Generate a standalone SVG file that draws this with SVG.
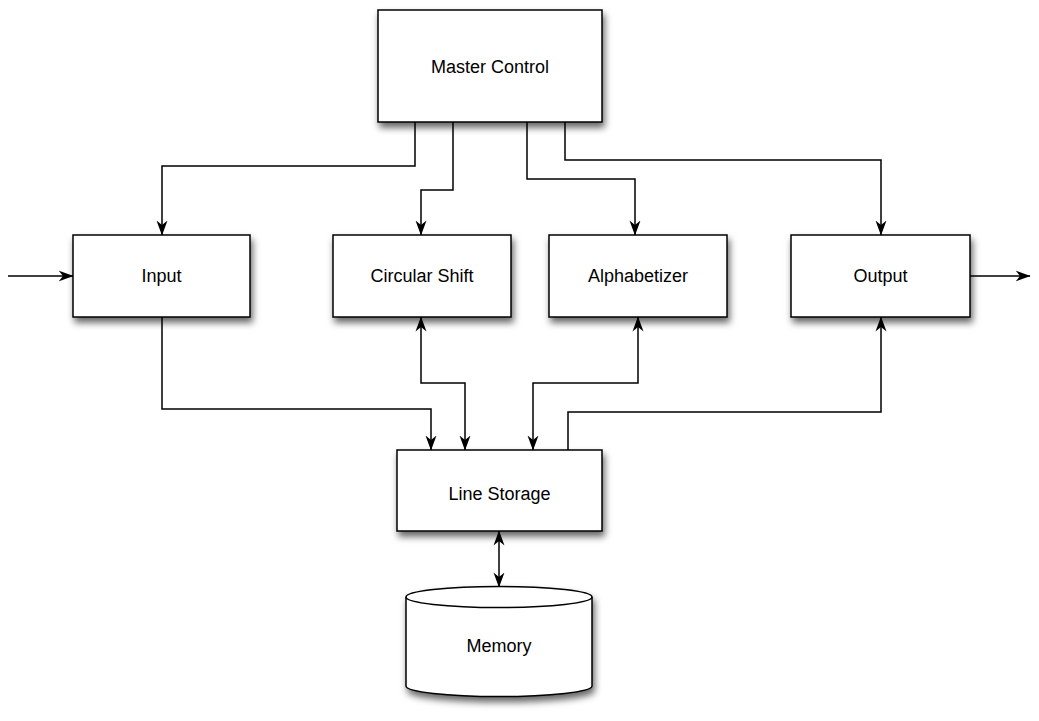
<svg xmlns="http://www.w3.org/2000/svg" width="1039" height="721" viewBox="0 0 1039 721">
  <defs>
    <filter id="shadow" x="-10%" y="-10%" width="130%" height="150%">
      <feDropShadow dx="2" dy="5" stdDeviation="3.5" flood-color="#000" flood-opacity="0.6"/>
    </filter>
    <marker id="arrow" viewBox="0 0 15 12" refX="14.5" refY="6" markerWidth="15" markerHeight="12" markerUnits="userSpaceOnUse" orient="auto-start-reverse">
      <path d="M0,0.5 L15,6 L0,11.5 L4.5,6 Z" fill="#000"/>
    </marker>
    <style>
      .box { fill: #fff; stroke: #000; stroke-width: 1.5; filter: url(#shadow); }
      .label { font-family: "Liberation Sans", Arial, sans-serif; font-size: 18px; fill: #000; text-anchor: middle; dominant-baseline: central; }
      .wire { fill: none; stroke: #000; stroke-width: 1.5; }
      .one { marker-end: url(#arrow); }
      .both { marker-start: url(#arrow); marker-end: url(#arrow); }
    </style>
  </defs>

  <g id="connectors">
    <!-- Master Control fan-out -->
    <path class="wire one" d="M415,122 V166 H162 V235"/>
    <path class="wire one" d="M453,122 V190 H421 V235"/>
    <path class="wire one" d="M527,122 V179 H635 V235"/>
    <path class="wire one" d="M565,122 V160 H881 V235"/>
    <!-- external input / output -->
    <path class="wire one" d="M8,276 H73"/>
    <path class="wire one" d="M970,276 H1030"/>
    <!-- modules to Line Storage -->
    <path class="wire one" d="M162,317 V409 H431 V450"/>
    <path class="wire both" d="M421,317 V383 H465 V450"/>
    <path class="wire both" d="M638,317 V383 H533 V450"/>
    <path class="wire one" d="M568,450 V412 H881 V317"/>
    <!-- Line Storage to Memory -->
    <path class="wire both" d="M499,531 V587"/>
  </g>

  <g id="master-control">
    <rect class="box" x="378" y="10" width="224" height="112"/>
    <text class="label" x="490" y="67">Master Control</text>
  </g>

  <g id="input">
    <rect class="box" x="73" y="235" width="177" height="82"/>
    <text class="label" x="161.5" y="276">Input</text>
  </g>

  <g id="circular-shift">
    <rect class="box" x="333" y="235" width="178" height="82"/>
    <text class="label" x="422" y="276">Circular Shift</text>
  </g>

  <g id="alphabetizer">
    <rect class="box" x="549" y="235" width="178" height="82"/>
    <text class="label" x="638" y="276">Alphabetizer</text>
  </g>

  <g id="output">
    <rect class="box" x="791" y="235" width="179" height="82"/>
    <text class="label" x="880.5" y="276">Output</text>
  </g>

  <g id="line-storage">
    <rect class="box" x="397" y="450" width="205" height="81"/>
    <text class="label" x="499.5" y="494">Line Storage</text>
  </g>

  <g id="memory">
    <path class="box" d="M406,597 A93,10.5 0 0 1 592,597 V686 A93,10.5 0 0 1 406,686 Z"/>
    <path class="wire" d="M406,597 A93,10.5 0 0 0 592,597"/>
    <text class="label" x="499" y="646">Memory</text>
  </g>
</svg>
